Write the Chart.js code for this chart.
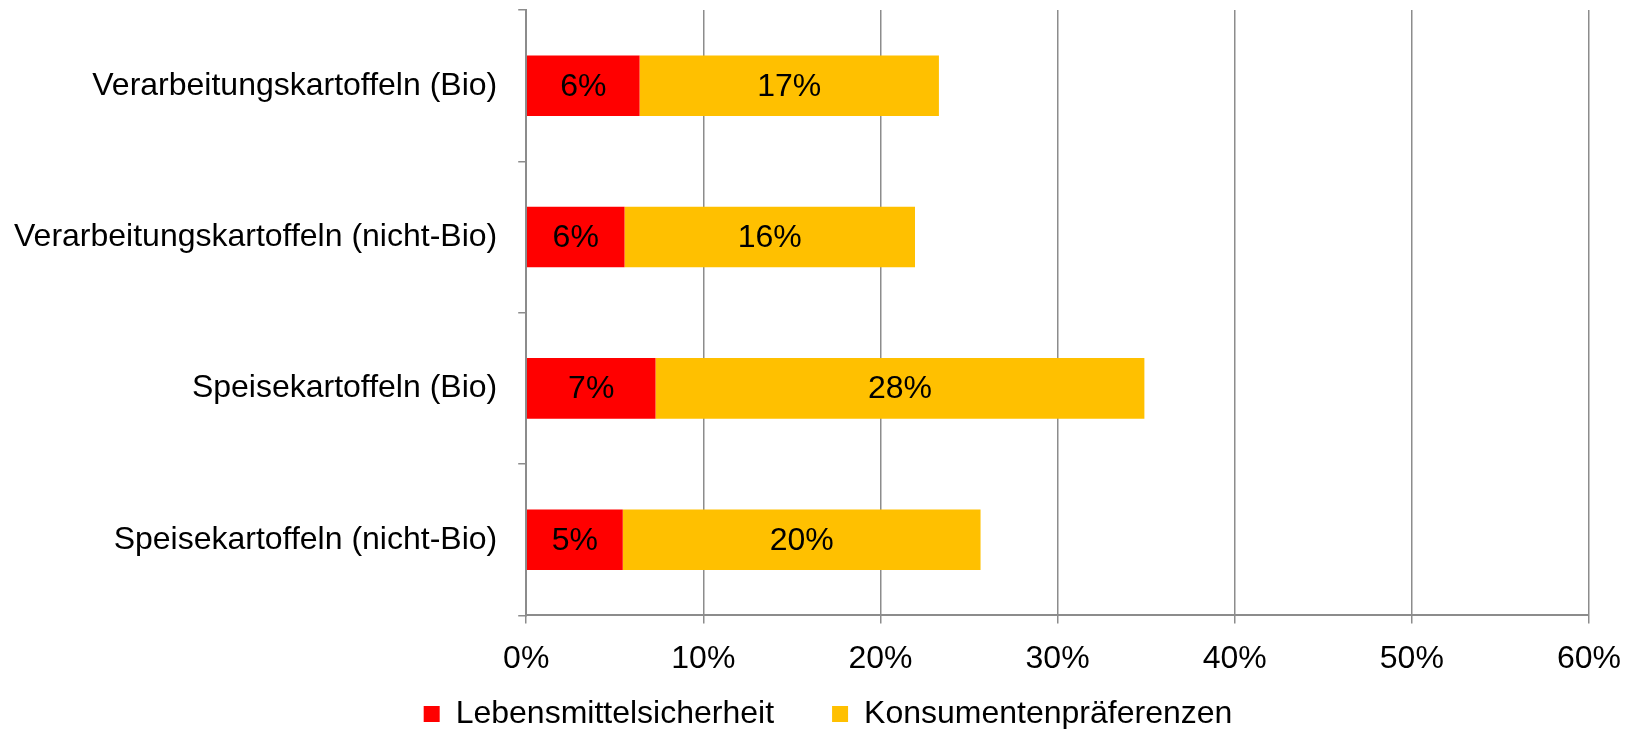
<!DOCTYPE html>
<html>
<head>
<meta charset="utf-8">
<script src="https://cdn.jsdelivr.net/npm/chart.js@4"></script>
<style>
  html, body { margin: 0; padding: 0; background: #ffffff; }
  #wrap { width: 1638px; height: 729px; position: relative; }
</style>
</head>
<body>
<div id="wrap"><canvas id="chart"></canvas></div>
<script>
// ─── Data ─────────────────────────────────────────────────────────────────────
const categories = [
    "Verarbeitungskartoffeln (Bio)",
    "Verarbeitungskartoffeln (nicht-Bio)",
    "Speisekartoffeln (Bio)",
    "Speisekartoffeln (nicht-Bio)",
];
const lebensmittelsicherheit = [6.4, 5.55, 7.3, 5.45];
const konsumentenpraeferenzen = [16.9, 16.4, 27.6, 20.2];
const xTicks = [0, 10, 20, 30, 40, 50, 60];

const FONT = "'Liberation Sans', Arial, sans-serif";
const GRID = "#8c8c8c";

// Labels drawn in the middle of each bar segment
const barLabels = {
    id: "barLabels",
    afterDatasetsDraw(chart) {
        const ctx = chart.ctx;
        ctx.save();
        ctx.font = `32px ${FONT}`;
        ctx.fillStyle = "#000000";
        ctx.textAlign = "center";
        ctx.textBaseline = "middle";
        chart.data.datasets.forEach((ds, i) => {
            chart.getDatasetMeta(i).data.forEach((bar, j) => {
                const { x, y, base } = bar.getProps(["x", "y", "base"], true);
                ctx.fillText(Math.round(ds.data[j]) + "%", (x + base) / 2, y + 1);
            });
        });
        ctx.restore();
    },
};

// Chart.js centres the legend row including the trailing padding,
// which leaves it a bit left of centre — nudge it back.
const legendNudge = {
    id: "legendNudge",
    afterLayout(chart) {
        if (!chart.legend) return;
        chart.legend.left += 19;
        chart.legend.right += 19;
    },
};

new Chart(document.getElementById("chart"), {
    type: "bar",
    data: {
        labels: categories,
        datasets: [
            {
                label: "Lebensmittelsicherheit",
                data: lebensmittelsicherheit,
                backgroundColor: "#ff0000",
                categoryPercentage: 1.0,
                barPercentage: 0.4,
            },
            {
                label: "Konsumentenpräferenzen",
                data: konsumentenpraeferenzen,
                backgroundColor: "#ffc000",
                categoryPercentage: 1.0,
                barPercentage: 0.4,
            },
        ],
    },
    options: {
        indexAxis: "y",
        responsive: true,
        maintainAspectRatio: false,
        animation: false,
        layout: { padding: { top: 10, right: 13, left: -7, bottom: -11 } },
        plugins: {
            tooltip: { enabled: false },
            legend: {
                position: "bottom",
                // padding is wide for the gap between the two items; an empty
                // title with negative padding pulls the row back up under the axis
                title: { display: true, text: "", font: { size: 1 }, padding: { top: -28, bottom: -29 } },
                labels: {
                    font: { size: 32, family: FONT },
                    color: "#000000",
                    boxWidth: 16,
                    boxHeight: 16,
                    padding: 58,
                },
            },
        },
        scales: {
            x: {
                stacked: true,
                min: 0,
                max: 60,
                afterBuildTicks: (axis) => { axis.ticks = xTicks.map(v => ({ value: v })); },
                grid: { color: GRID, lineWidth: 1.5, tickLength: 8 },
                border: { color: GRID, width: 2 },
                ticks: {
                    font: { size: 32, family: FONT },
                    color: "#000000",
                    padding: 17,
                    callback: (v) => v + "%",
                },
            },
            y: {
                stacked: true,
                afterFit: (axis) => { axis.paddingTop = 0; axis.paddingBottom = 0; },
                grid: { offset: true, drawOnChartArea: false, color: GRID, lineWidth: 1.5, tickLength: 8 },
                border: { color: GRID, width: 2 },
                ticks: {
                    font: { size: 32, family: FONT },
                    color: "#000000",
                    padding: 21,
                },
            },
        },
    },
    plugins: [barLabels, legendNudge],
});
</script>
</body>
</html>
